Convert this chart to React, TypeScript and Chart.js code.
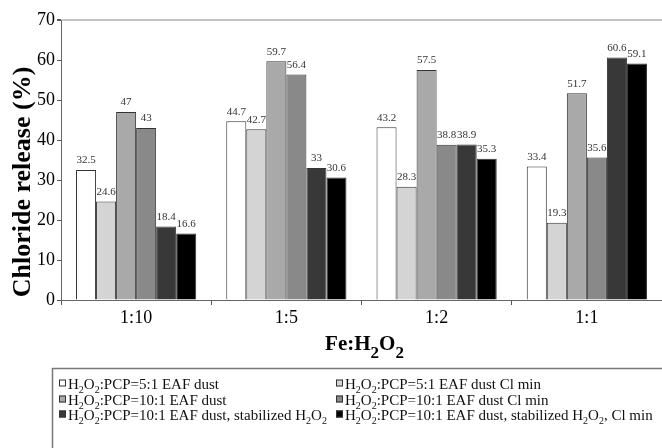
import React, { useEffect, useRef } from 'react';
import { Chart, registerables } from 'chart.js';

Chart.register(...registerables);

const categories = ['1:10', '1:5', '1:2', '1:1'];

const seriesLabels = [
  'H₂O₂:PCP=5:1 EAF dust',
  'H₂O₂:PCP=5:1 EAF dust Cl min',
  'H₂O₂:PCP=10:1 EAF dust',
  'H₂O₂:PCP=10:1 EAF dust Cl min',
  'H₂O₂:PCP=10:1 EAF dust, stabilized H₂O₂',
  'H₂O₂:PCP=10:1 EAF dust, stabilized H₂O₂, Cl min',
];

const ratio5EafDust = [32.5, 44.7, 43.2, 33.4];
const ratio5EafDustClMin = [24.6, 42.7, 28.3, 19.3];
const ratio10EafDust = [47, 59.7, 57.5, 51.7];
const ratio10EafDustClMin = [43, 56.4, 38.8, 35.6];
const ratio10Stabilized = [18.4, 33, 38.9, 60.6];
const ratio10StabilizedClMin = [16.6, 30.6, 35.3, 59.1];

const seriesValues = [
  ratio5EafDust,
  ratio5EafDustClMin,
  ratio10EafDust,
  ratio10EafDustClMin,
  ratio10Stabilized,
  ratio10StabilizedClMin,
];

const seriesColors = ['#ffffff', '#d4d4d4', '#a9a9a9', '#898989', '#383838', '#000000'];

const yMin = 0;
const yMax = 70;
const yStep = 10;

const yTitle = 'Chloride release (%)';
const xTitle = 'Fe:H₂O₂';

const SERIF = '"Liberation Serif", "Times New Roman", Times, serif';

function drawRich(
  ctx: CanvasRenderingContext2D,
  text: string,
  x: number,
  baseline: number,
  size: number,
  weight: string,
  align: 'left' | 'center',
  subScale: number,
  subDrop: number
) {
  const runs: { t: string; sub: boolean; w: number }[] = [];
  for (const ch of text) {
    const sub = ch === '₂';
    const c = sub ? '2' : ch;
    const last = runs[runs.length - 1];
    if (last && last.sub === sub) last.t += c;
    else runs.push({ t: c, sub, w: 0 });
  }
  const fontFor = (sub: boolean) =>
    `${weight} ${sub ? Math.round(size * subScale) : size}px ${SERIF}`;
  let total = 0;
  for (const r of runs) {
    ctx.font = fontFor(r.sub);
    r.w = ctx.measureText(r.t).width;
    total += r.w;
  }
  let cx = align === 'center' ? x - total / 2 : x;
  ctx.textAlign = 'left';
  ctx.textBaseline = 'alphabetic';
  for (const r of runs) {
    ctx.font = fontFor(r.sub);
    ctx.fillText(r.t, cx, baseline + (r.sub ? size * subDrop : 0));
    cx += r.w;
  }
}

const valueLabelPlugin = {
  id: 'valueLabels',
  afterDatasetsDraw(chart: any) {
    const ctx = chart.ctx as CanvasRenderingContext2D;
    ctx.save();
    ctx.font = `11px ${SERIF}`;
    ctx.fillStyle = '#333333';
    ctx.textAlign = 'center';
    ctx.textBaseline = 'bottom';
    chart.data.datasets.forEach((ds: any, i: number) => {
      const meta = chart.getDatasetMeta(i);
      meta.data.forEach((el: any, j: number) => {
        const v = ds.data[j];
        ctx.fillText(String(v), el.x, el.y - 4);
      });
    });
    ctx.restore();
  },
};

const extrasPlugin = {
  id: 'extras',
  afterDraw(chart: any) {
    const ctx = chart.ctx as CanvasRenderingContext2D;
    const area = chart.chartArea;
    ctx.save();

    // y axis title
    ctx.save();
    ctx.translate(23, area.bottom - 118);
    ctx.rotate(-Math.PI / 2);
    ctx.fillStyle = '#000000';
    ctx.font = `bold 26px ${SERIF}`;
    ctx.textAlign = 'center';
    ctx.textBaseline = 'middle';
    ctx.fillText(yTitle, 0, 0);
    ctx.restore();

    // x axis title
    ctx.fillStyle = '#000000';
    drawRich(ctx, xTitle, (area.left + area.right) / 2 + 3, area.bottom + 50, 21, 'bold', 'center', 0.8, 0.36);

    // legend box
    const boxLeft = 52.5;
    const boxTop = area.bottom + 68.5;
    ctx.strokeStyle = '#777777';
    ctx.lineWidth = 1.5;
    ctx.strokeRect(boxLeft, boxTop, chart.width + 20, chart.height);

    const colX = [59, 336];
    const rowY = [boxTop + 15, boxTop + 31, boxTop + 46];
    chart.data.datasets.forEach((ds: any, i: number) => {
      const col = i % 2;
      const row = Math.floor(i / 2);
      const mx = colX[col];
      const cy = rowY[row];
      ctx.fillStyle = ds.backgroundColor;
      ctx.fillRect(mx, cy - 4, 7, 7);
      ctx.strokeStyle = '#333333';
      ctx.lineWidth = 1;
      ctx.strokeRect(mx + 0.5, cy - 3.5, 6, 6);
      ctx.fillStyle = '#111111';
      drawRich(ctx, ds.label, mx + 9, cy + 5, 15, 'normal', 'left', 0.65, 0.3);
    });
    ctx.restore();
  },
};

export default function App() {
  const canvasRef = useRef<HTMLCanvasElement | null>(null);

  useEffect(() => {
    document.body.style.margin = '0';
    const canvas = canvasRef.current;
    if (!canvas) return;
    const chart = new Chart(canvas, {
      type: 'bar',
      data: {
        labels: categories,
        datasets: seriesValues.map((vals, i) => ({
          label: seriesLabels[i],
          data: vals,
          backgroundColor: seriesColors[i],
          borderColor: '#333333',
          borderWidth: 1,
          categoryPercentage: 0.8,
          barPercentage: 1.0,
        })),
      },
      options: {
        responsive: false,
        animation: false,
        devicePixelRatio: 1,
        layout: { padding: { top: 20, left: 0, right: 0, bottom: 118 } },
        plugins: {
          legend: { display: false },
          tooltip: { enabled: false },
        },
        scales: {
          x: {
            afterFit: (s: any) => {
              s.height = 30;
            },
            grid: {
              offset: true,
              drawOnChartArea: false,
              drawTicks: true,
              tickLength: 5,
              tickColor: '#555555',
            },
            border: { display: true, color: '#666666', width: 1 },
            ticks: {
              color: '#000000',
              font: { family: SERIF, size: 18 },
              padding: 2,
            },
          },
          y: {
            min: yMin,
            max: yMax,
            afterFit: (s: any) => {
              s.width = 61;
            },
            grid: {
              drawOnChartArea: true,
              color: (c: any) => (c.tick && c.tick.value === yMax ? '#c4c4c4' : 'rgba(0,0,0,0)'),
              lineWidth: (c: any) => (c.tick && c.tick.value === yMax ? 2 : 1),
              tickColor: '#555555',
              tickLength: 4,
            },
            border: { display: true, color: '#666666', width: 1 },
            ticks: {
              stepSize: yStep,
              color: '#000000',
              font: { family: SERIF, size: 18 },
              padding: 2,
            },
          },
        },
      },
      plugins: [valueLabelPlugin, extrasPlugin],
    });
    return () => chart.destroy();
  }, []);

  return (
    <div style={{ width: 662, height: 448, position: 'relative', background: '#ffffff' }}>
      <canvas ref={canvasRef} width={662} height={448} style={{ display: 'block', width: 662, height: 448 }} />
    </div>
  );
}
